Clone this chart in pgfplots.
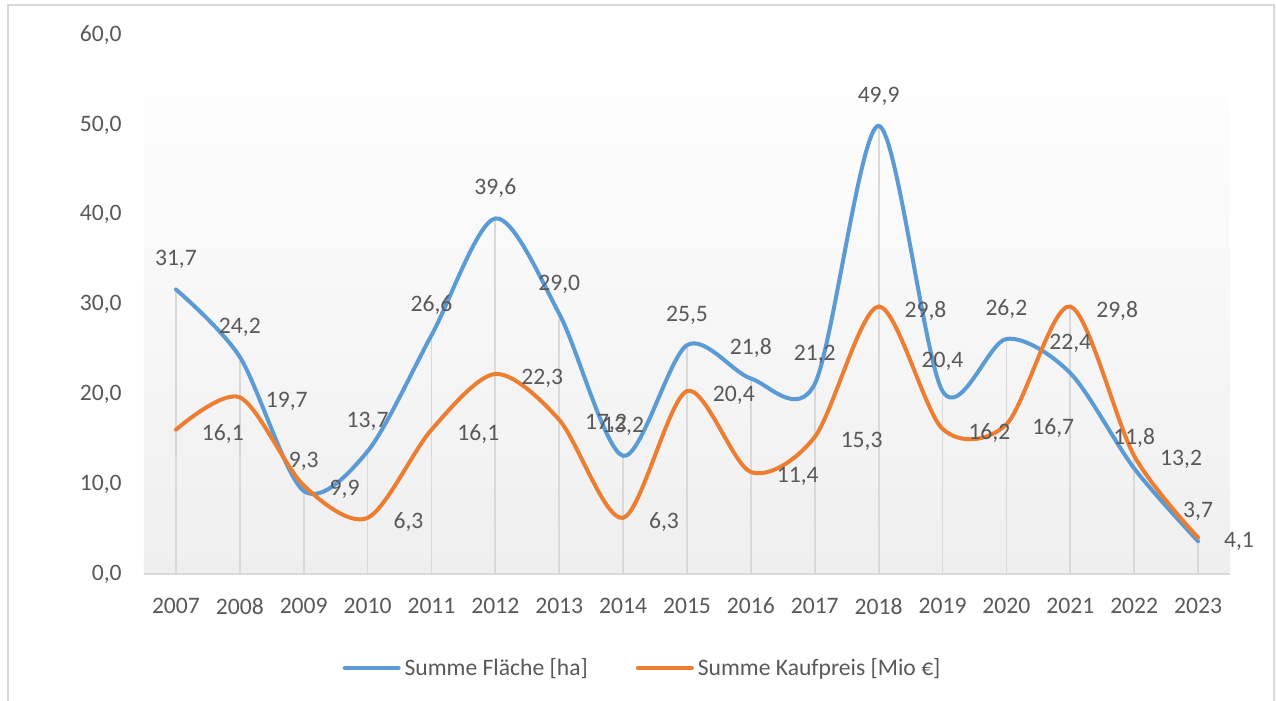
\documentclass[border=0pt]{standalone}
\usepackage{fontspec}
\setmainfont{Carlito}
\usepackage{pgfplots}
\pgfplotsset{compat=1.18}
\definecolor{sblue}{HTML}{5B9BD5}
\definecolor{sorange}{HTML}{ED7D31}
\definecolor{tgray}{HTML}{595959}
\definecolor{lgray}{HTML}{D9D9D9}
\definecolor{shtop}{HTML}{FDFDFD}
\definecolor{shbot}{HTML}{EFEFEF}
\begin{document}
\begin{tikzpicture}[font=\fontsize{11.8}{14}\selectfont]
\useasboundingbox (-72pt,-63.25pt) rectangle (566pt,287.25pt);
\fill[white] (-72pt,-63.25pt) rectangle (566pt,287.25pt);
\draw[lgray, line width=1pt] (-68pt,-80pt) -- (-68pt,284.75pt) -- (565pt,284.75pt) -- (565pt,-80pt);
\begin{axis}[
  at={(0,0)}, anchor=south west,
  scale only axis, width=543pt, height=269.75pt,
  xmin=2006.5, xmax=2023.5, ymin=0, ymax=60,
  xtick={2007,2008,2009,2010,2011,2012,2013,2014,2015,2016,2017,2018,2019,2020,2021,2022,2023},
  xticklabels={2007,2008,2009,2010,2011,2012,2013,2014,2015,2016,2017,2018,2019,2020,2021,2022,2023},
  ytick={0,10,20,30,40,50,60},
  axis line style={draw=none},
  major tick length=0pt,
  tick style={draw=none},
  ticklabel style={text=tgray, inner sep=0pt},
  xticklabel style={anchor=north, yshift=-11.5pt},
  yticklabel style={anchor=east, xshift=-11pt},
  /pgf/number format/assume math mode=true,
  /pgf/number format/use comma,
  /pgf/number format/fixed,
  /pgf/number format/fixed zerofill,
  /pgf/number format/precision=1,
  clip=false,
  legend columns=2,
  legend style={at={(0.46,-0.1733)}, anchor=center, draw=none, fill=none,
    text=tgray, nodes={inner xsep=2pt, inner ysep=1pt},
    /tikz/every even column/.append style={column sep=22pt}},
  legend cell align=left,
  legend image code/.code={\draw[#1, line width=2pt, line cap=round] (0pt,0pt) -- (27pt,0pt);},
]
\shade[top color=shtop, bottom color=shbot] (axis cs:2006.5,0) rectangle (axis cs:2023.5,53.1);
\addplot[ycomb, draw=lgray, line width=0.9pt, forget plot] coordinates {
(2007,31.7) (2008,24.2) (2009,9.3) (2010,13.7) (2011,26.6) (2012,39.6) (2013,29.0) (2014,13.2) (2015,25.5) (2016,21.8) (2017,21.2) (2018,49.9) (2019,20.4) (2020,26.2) (2021,22.4) (2022,11.8) (2023,3.7)};
\addplot[ycomb, draw=lgray, line width=0.9pt, forget plot] coordinates {
(2007,16.1) (2008,19.7) (2009,9.9) (2010,6.3) (2011,16.1) (2012,22.3) (2013,17.2) (2014,6.3) (2015,20.4) (2016,11.4) (2017,15.3) (2018,29.8) (2019,16.2) (2020,16.7) (2021,29.8) (2022,13.2) (2023,4.1)};
\draw[lgray, line width=1pt] (axis cs:2006.5,0) -- (axis cs:2023.5,0);
\addplot[sblue, line width=2pt, smooth, line cap=round,
  nodes near coords,
  nodes near coords style={anchor=base, inner sep=0pt, yshift=11.75pt, text=tgray}]
coordinates {
(2007,31.7) (2008,24.2) (2009,9.3) (2010,13.7) (2011,26.6) (2012,39.6) (2013,29.0) (2014,13.2) (2015,25.5) (2016,21.8) (2017,21.2) (2018,49.9) (2019,20.4) (2020,26.2) (2021,22.4) (2022,11.8) (2023,3.7)};
\addlegendentry{Summe Fläche [ha]}
\addplot[sorange, line width=2pt, smooth, line cap=round,
  nodes near coords,
  nodes near coords style={anchor=west, inner sep=0pt, xshift=12pt, yshift=-2pt, text=tgray}]
coordinates {
(2007,16.1) (2008,19.7) (2009,9.9) (2010,6.3) (2011,16.1) (2012,22.3) (2013,17.2) (2014,6.3) (2015,20.4) (2016,11.4) (2017,15.3) (2018,29.8) (2019,16.2) (2020,16.7) (2021,29.8) (2022,13.2) (2023,4.1)};
\addlegendentry{Summe Kaufpreis [Mio €]}
\end{axis}
\end{tikzpicture}
\end{document}
